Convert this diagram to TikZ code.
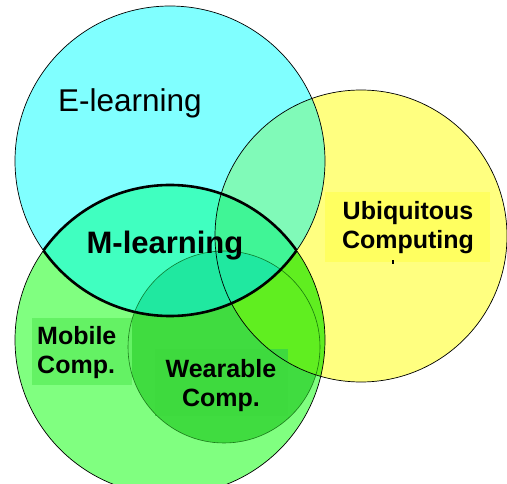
\documentclass[tikz,border=0pt]{standalone}
\usepackage{fontspec}
\setmainfont{Liberation Sans}
\usepackage{tikz}

\definecolor{ecyan}{RGB}{128,255,255}
\definecolor{uyellow}{RGB}{255,255,128}
\definecolor{mgreen}{RGB}{128,255,128}
\definecolor{wgreen}{RGB}{64,220,64}
\definecolor{eumint}{RGB}{128,250,184}
\definecolor{emaqua}{RGB}{64,255,192}
\definecolor{emuaqua}{RGB}{64,245,150}
\definecolor{ewaqua}{RGB}{32,232,160}
\definecolor{mulime}{RGB}{96,238,32}
\definecolor{ubox}{RGB}{255,255,96}
\definecolor{mbox}{RGB}{100,242,100}
\definecolor{wbox}{RGB}{62,218,62}

\tikzset{
  rim/.style={draw=black, line width=0.7pt},
  innerrim/.style={draw=black!70!green, line width=0.6pt, draw opacity=0.7},
  lensrim/.style={draw=black, line width=2.6pt},
  biglabel/.style={font=\fontsize{31}{36}\selectfont\bfseries, inner sep=0pt},
  boldlabel/.style={font=\fontsize{25}{29}\selectfont\bfseries, inner sep=0pt},
  thinlabel/.style={font=\fontsize{31.5}{36}\selectfont, inner sep=0pt}
}

\def\ecirc{(170,161) circle (155)}
\def\mcirc{(170,340) circle (155)}
\def\ucirc{(361,236) circle (146)}
\def\wcirc{(224,347) circle (96)}

\begin{document}
\begin{tikzpicture}[x=1pt, y=-1pt]
    \useasboundingbox (0,0) rectangle (507,484);

    % Mobile and ubiquitous areas
    \fill[mgreen] \mcirc;
    \fill[uyellow] \ucirc;
    \begin{scope}
        \clip \ucirc;
        \fill[mulime] \mcirc;
    \end{scope}

    % Wearable area
    \fill[wgreen] \wcirc;
    \begin{scope}
        \clip \ucirc;
        \fill[mulime] \wcirc;
    \end{scope}

    % E-learning area and its overlaps
    \fill[ecyan] \ecirc;
    \begin{scope}
        \clip \ucirc;
        \fill[eumint] \ecirc;
    \end{scope}
    \begin{scope}
        \clip \mcirc;
        \fill[emaqua] \ecirc;
        \clip \ucirc;
        \fill[emuaqua] \ecirc;
    \end{scope}
    \begin{scope}
        \clip \wcirc;
        \fill[ewaqua] \ecirc;
    \end{scope}

    % Label patches
    \fill[ubox] (325,192) rectangle (490,262);
    \fill[mbox] (32,318) rectangle (132,385);
    \fill[wbox] (155,349) rectangle (288,416);
    \fill[black] (392,260) rectangle (394,264);

    % Circle outlines
    \path[innerrim] \wcirc;
    \path[rim] \mcirc;
    \path[rim] \ucirc;
    \path[rim] \ecirc;

    % M-learning lens
    \begin{scope}
        \clip \ecirc;
        \path[lensrim] \mcirc;
    \end{scope}
    \begin{scope}
        \clip \mcirc;
        \path[lensrim] \ecirc;
    \end{scope}

    % Labels
    \node[thinlabel, anchor=base west] (elearn) at (58,112) {E-learning};
    \node[biglabel, anchor=base] (mlearn) at (165,254) {M-learning};
    \node[boldlabel, align=center] (ubicomp) at (408,228) {Ubiquitous\\Computing};
    \node[boldlabel, align=left, anchor=west] (mobcomp) at (37,353) {Mobile\\Comp.};
    \node[boldlabel, align=center] (wearcomp) at (221,386) {Wearable\\Comp.};

\end{tikzpicture}
\end{document}
